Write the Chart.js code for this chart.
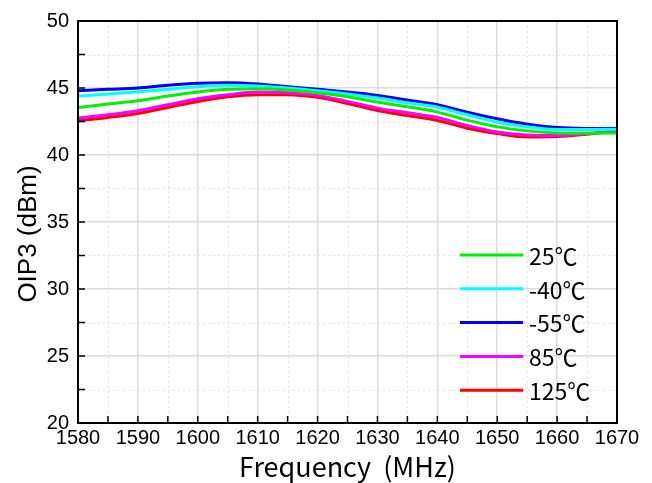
<!DOCTYPE html>
<html>

<head>
    <meta charset="utf-8" />
    <title>OIP3 vs Frequency</title>
    <script src="https://cdn.jsdelivr.net/npm/chart.js/dist/chart.umd.js"></script>
    <style>
        html, body { margin: 0; padding: 0; background: #fff; }
        #wrap { width: 652px; height: 483px; }
    </style>
</head>

<body>
    <div id="wrap"><canvas id="oip3Chart" width="652" height="483"></canvas></div>
    <script>
        // frequency points (MHz), 5 MHz apart
        const freq = [1580, 1585, 1590, 1595, 1600, 1605, 1610, 1615, 1620, 1625,
            1630, 1635, 1640, 1645, 1650, 1655, 1660, 1665, 1670];

        // OIP3 (dBm) per temperature
        const oip3_25 = [43.55, 43.8, 44.05, 44.4, 44.7, 44.9, 44.95, 44.85, 44.65, 44.35,
            43.95, 43.6, 43.2, 42.6, 42.1, 41.8, 41.65, 41.62, 41.65];
        const oip3_m40 = [44.4, 44.55, 44.72, 44.9, 45.1, 45.2, 45.15, 45.0, 44.8, 44.55,
            44.25, 43.9, 43.57, 43.0, 42.45, 42.1, 41.9, 41.9, 41.93];
        const oip3_m55 = [44.8, 44.9, 45.0, 45.2, 45.35, 45.4, 45.3, 45.1, 44.9, 44.7,
            44.45, 44.1, 43.75, 43.2, 42.7, 42.3, 42.05, 41.98, 41.97];
        const oip3_85 = [42.75, 43.0, 43.3, 43.75, 44.2, 44.5, 44.7, 44.65, 44.45, 44.0,
            43.5, 43.15, 42.8, 42.2, 41.72, 41.5, 41.45, 41.6, 41.78];
        const oip3_125 = [42.55, 42.8, 43.1, 43.55, 44.0, 44.35, 44.5, 44.5, 44.3, 43.85,
            43.32, 42.95, 42.58, 42.0, 41.6, 41.35, 41.38, 41.55, 41.8];

        const seriesNames = ['25℃', '-40℃', '-55℃', '85℃', '125℃'];
        const seriesColors = ['#00f000', '#00ffff', '#0000f0', '#ff00ff', '#ff0000'];
        const seriesValues = [oip3_25, oip3_m40, oip3_m55, oip3_85, oip3_125];

        const tickFont = { family: 'Liberation Sans, Arial', size: 20 };

        // minor dotted grid, inward ticks, box frame, y title and in-plot legend
        const framePlugin = {
            id: 'frame',
            beforeDatasetsDraw(chart) {
                const { ctx, chartArea: a, scales } = chart;
                ctx.save();
                ctx.strokeStyle = '#e2e2e2';
                ctx.lineWidth = 1;
                ctx.setLineDash([2, 3]);
                scales.x.ticks.forEach(t => {
                    if (t.value % 10 === 0) return;
                    const px = Math.round(scales.x.getPixelForValue(t.value)) + 0.5;
                    ctx.beginPath(); ctx.moveTo(px, a.top); ctx.lineTo(px, a.bottom); ctx.stroke();
                });
                scales.y.ticks.forEach(t => {
                    if (t.value % 5 === 0) return;
                    const py = Math.round(scales.y.getPixelForValue(t.value)) + 0.5;
                    ctx.beginPath(); ctx.moveTo(a.left, py); ctx.lineTo(a.right, py); ctx.stroke();
                });
                ctx.restore();
            },
            afterDatasetsDraw(chart) {
                const { ctx, chartArea: a, scales } = chart;
                ctx.save();
                ctx.strokeStyle = '#000';
                ctx.lineWidth = 1.5;
                ctx.setLineDash([]);
                ctx.beginPath();
                scales.x.ticks.forEach(t => {
                    const px = scales.x.getPixelForValue(t.value);
                    ctx.moveTo(px, a.bottom); ctx.lineTo(px, a.bottom - 7);
                });
                scales.y.ticks.forEach(t => {
                    const py = scales.y.getPixelForValue(t.value);
                    ctx.moveTo(a.left, py); ctx.lineTo(a.left + 7, py);
                });
                ctx.stroke();
                ctx.lineWidth = 2;
                ctx.strokeRect(a.left, a.top, a.right - a.left, a.bottom - a.top);

                // y axis title, sitting a little below the plot's middle
                ctx.save();
                ctx.translate(29, 234);
                ctx.rotate(-Math.PI / 2);
                ctx.font = '26px "Liberation Sans", Arial';
                ctx.textAlign = 'center';
                ctx.textBaseline = 'middle';
                ctx.fillStyle = '#000';
                ctx.fillText('OIP3 (dBm)', 0, 0);
                ctx.restore();

                // legend
                ctx.font = '23px "Noto Sans CJK SC", "Noto Sans"';
                ctx.textBaseline = 'middle';
                ctx.fillStyle = '#000';
                chart.data.datasets.forEach((ds, i) => {
                    const y = 255 + i * 33.8;
                    ctx.strokeStyle = ds.borderColor;
                    ctx.lineWidth = 3;
                    ctx.beginPath(); ctx.moveTo(460, y); ctx.lineTo(523, y); ctx.stroke();
                    ctx.fillText(ds.label, 529, y + 1);
                });
                ctx.restore();
            }
        };

        new Chart(document.getElementById('oip3Chart'), {
            type: 'line',
            data: {
                labels: freq,
                datasets: seriesValues.map((vals, i) => ({
                    label: seriesNames[i],
                    data: freq.map((f, j) => ({ x: f, y: vals[j] })),
                    borderColor: seriesColors[i],
                    backgroundColor: seriesColors[i],
                    borderWidth: 3,
                    pointRadius: 0,
                    cubicInterpolationMode: 'monotone',
                    fill: false
                }))
            },
            options: {
                responsive: false,
                animation: false,
                layout: { padding: { top: 16, right: 35, left: 0, bottom: 0 } },
                plugins: { legend: { display: false }, tooltip: { enabled: false } },
                scales: {
                    x: {
                        type: 'linear',
                        min: 1580, max: 1670,
                        afterFit: s => { s.height = 60; },
                        ticks: {
                            stepSize: 5,
                            autoSkip: false,
                            maxRotation: 0,
                            color: '#000',
                            font: tickFont,
                            padding: 3,
                            callback: v => (v % 10 === 0 ? v : '')
                        },
                        grid: {
                            drawTicks: false,
                            color: c => (c.tick && c.tick.value % 10 === 0 ? '#dcdcdc' : 'rgba(0,0,0,0)'),
                            lineWidth: 1.5
                        },
                        border: { display: false },
                        title: {
                            display: true,
                            text: 'Frequency  (MHz)',
                            color: '#000',
                            font: { family: '"Noto Sans CJK SC", "Noto Sans"', size: 27 },
                            padding: { top: -6, bottom: 0 }
                        }
                    },
                    y: {
                        min: 20, max: 50,
                        afterFit: s => { s.width = 78; },
                        ticks: {
                            stepSize: 2.5,
                            autoSkip: false,
                            color: '#000',
                            font: tickFont,
                            padding: 9,
                            callback: v => (v % 5 === 0 ? v : '')
                        },
                        grid: {
                            drawTicks: false,
                            color: c => (c.tick && c.tick.value % 5 === 0 ? '#dcdcdc' : 'rgba(0,0,0,0)'),
                            lineWidth: 1.5
                        },
                        border: { display: false }
                    }
                }
            },
            plugins: [framePlugin]
        });
    </script>
</body>

</html>
